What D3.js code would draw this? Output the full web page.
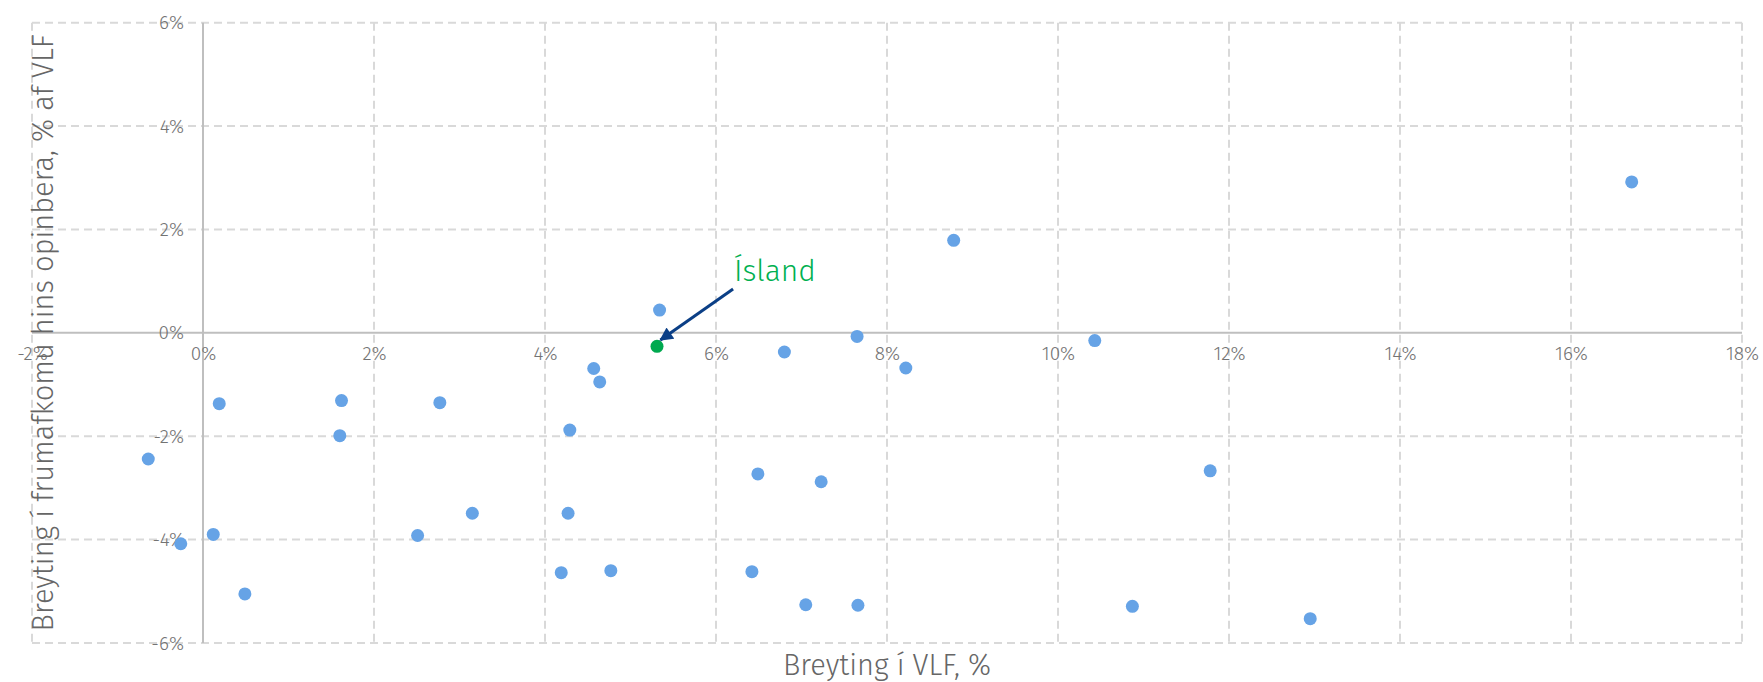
<!DOCTYPE html>
<html>
<head>
<meta charset="utf-8">
<script src="https://cdn.jsdelivr.net/npm/d3@7"></script>
<style>
  body { margin: 0; background: #fff; }
  svg text { font-family: "Fira Sans", "Open Sans", sans-serif; font-weight: 300; }
</style>
</head>
<body>
<svg id="chart"></svg>
<script>
// data: % change in GDP vs change in primary balance (% of GDP)
const gdpChange = [16.71, 8.78, 5.34, 7.65, 10.43, 6.80, 8.22, 4.57, 4.64, 0.19, 1.62, 2.77, 1.60, 4.29,
  -0.64, 0.12, -0.26, 0.49, 2.51, 3.15, 4.27, 4.19, 6.49, 7.23, 4.77, 6.42, 7.05, 7.66, 10.87, 11.78, 12.95];
const balanceChange = [2.92, 1.79, 0.44, -0.07, -0.15, -0.37, -0.68, -0.69, -0.95, -1.37, -1.31, -1.35, -1.99, -1.88,
  -2.44, -3.90, -4.08, -5.05, -3.92, -3.49, -3.49, -4.64, -2.73, -2.88, -4.60, -4.62, -5.26, -5.27, -5.29, -2.67, -5.53];

const iceland = { name: "Ísland", x: 5.31, y: -0.26 };

const xTicks = [-2, 0, 2, 4, 6, 8, 10, 12, 14, 16, 18];
const yTicks = [-6, -4, -2, 0, 2, 4, 6];

const xTitle = "Breyting í VLF, %";
const yTitle = "Breyting í frumafkomu hins opinbera, % af VLF";

const width = 1763;
const height = 682;

const svg = d3.select("#chart")
  .attr("width", width)
  .attr("height", height);

const x = d3.scaleLinear().domain([-2, 18]).range([32, 1742]);
const y = d3.scaleLinear().domain([-6, 6]).range([643, 22.7]);

// grid (dashed)
const grid = svg.append("g");
grid.selectAll("line.v")
  .data(xTicks.filter(d => d !== 0))
  .enter()
  .append("line")
  .attr("x1", d => x(d)).attr("x2", d => x(d))
  .attr("y1", y(6)).attr("y2", y(-6));
grid.selectAll("line.h")
  .data(yTicks.filter(d => d !== 0))
  .enter()
  .append("line")
  .attr("class", "h")
  .attr("x1", x(-2)).attr("x2", x(18))
  .attr("y1", d => y(d)).attr("y2", d => y(d));
grid.selectAll("line")
  .attr("stroke", "#d9d9d9")
  .attr("stroke-width", 2)
  .attr("stroke-dasharray", "8,5");

// zero lines
svg.append("line")
  .attr("x1", x(-2)).attr("x2", x(18))
  .attr("y1", y(0)).attr("y2", y(0))
  .attr("stroke", "#bfbfbf").attr("stroke-width", 2);
svg.append("line")
  .attr("x1", x(0)).attr("x2", x(0))
  .attr("y1", y(6)).attr("y2", y(-6))
  .attr("stroke", "#bfbfbf").attr("stroke-width", 2);

// x tick labels sit just under the zero line
const xAxis = svg.append("g")
  .attr("transform", `translate(0,${y(0)})`)
  .call(d3.axisBottom(x).tickValues(xTicks).tickSize(0).tickPadding(14).tickFormat(d => d + "%"));
xAxis.select(".domain").remove();
xAxis.selectAll("text")
  .attr("fill", "#737373")
  .style("font-size", "19px");

// y tick labels to the left of the zero line
const yAxis = svg.append("g")
  .attr("transform", `translate(${x(0)},0)`)
  .call(d3.axisLeft(y).tickValues(yTicks).tickSize(0).tickPadding(19).tickFormat(d => d + "%"));
yAxis.select(".domain").remove();
yAxis.selectAll("text")
  .attr("fill", "#737373")
  .style("font-size", "19px");

// axis titles
svg.append("text")
  .text(xTitle)
  .attr("x", (x(-2) + x(18)) / 2)
  .attr("y", 675)
  .attr("text-anchor", "middle")
  .attr("fill", "#666")
  .style("font-size", "29px");

svg.append("text")
  .text(yTitle)
  .attr("transform", `translate(53,${(y(6) + y(-6)) / 2}) rotate(-90)`)
  .attr("text-anchor", "middle")
  .attr("fill", "#666")
  .style("font-size", "29px");

// points
const points = gdpChange.map((d, i) => ({ x: d, y: balanceChange[i] }));
svg.append("g")
  .selectAll("circle")
  .data(points)
  .enter()
  .append("circle")
  .attr("cx", d => x(d.x))
  .attr("cy", d => y(d.y))
  .attr("r", 6.5)
  .attr("fill", "#66a3e6");

svg.append("circle")
  .attr("cx", x(iceland.x))
  .attr("cy", y(iceland.y))
  .attr("r", 6.5)
  .attr("fill", "#00a94f");

// annotation
svg.append("defs").append("marker")
  .attr("id", "arrow")
  .attr("viewBox", "0 0 10 10")
  .attr("refX", 9).attr("refY", 5)
  .attr("markerWidth", 5).attr("markerHeight", 4.5)
  .attr("orient", "auto")
  .append("path")
  .attr("d", "M0,0 L10,5 L0,10 Z")
  .attr("fill", "#0b3f86");

svg.append("line")
  .attr("x1", x(6.2)).attr("y1", y(0.85))
  .attr("x2", x(5.35)).attr("y2", y(-0.14))
  .attr("stroke", "#0b3f86")
  .attr("stroke-width", 3)
  .attr("marker-end", "url(#arrow)");

svg.append("text")
  .text(iceland.name)
  .attr("x", x(6.21))
  .attr("y", y(1.0))
  .attr("fill", "#00b050")
  .style("font-size", "30px");
</script>
</body>
</html>
